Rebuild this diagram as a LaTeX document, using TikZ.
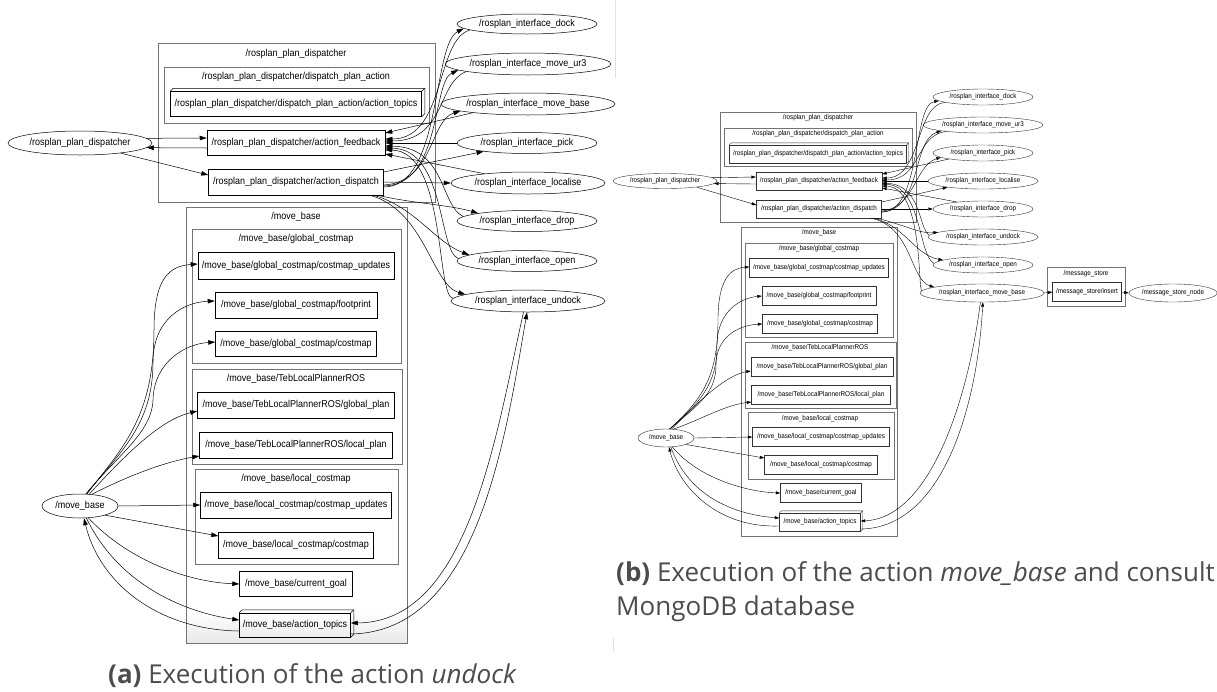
\documentclass[tikz,border=0pt]{standalone}
\usepackage{fontspec}
\setmainfont{Open Sans}
\newfontfamily\gv[FakeStretch=0.9]{Liberation Sans}
\usetikzlibrary{shapes.geometric,arrows.meta,calc}
\newcommand\threed[3]{%
  \draw[#2] (#1.north west) -- ++(#3,-#3) -- ($(#1.north east)+(#3,-#3)$) -- ($(#1.south east)+(#3,-#3)$) -- (#1.south east);
  \draw[#2] (#1.north east) -- ++(#3,-#3);}
\tikzset{
  afont/.style={font=\gv\fontsize{10}{12}\selectfont},
  bfont/.style={font=\gv\fontsize{7}{8}\selectfont},
  abox/.style={afont, draw=black, line width=0.5pt, rectangle, inner sep=0pt},
  bbox/.style={bfont, draw=black!80, line width=0.4pt, rectangle, inner sep=0pt},
  aell/.style={afont, draw=black, line width=0.5pt, ellipse, inner sep=0pt},
  bell/.style={bfont, draw=black!80, line width=0.4pt, ellipse, inner sep=0pt},
  aclu/.style={draw=black!55, line width=0.6pt},
  bclu/.style={draw=black!55, line width=0.45pt},
  atitle/.style={afont, inner sep=0pt},
  btitle/.style={bfont, inner sep=0pt},
  aarr/.style={-{Triangle[length=7pt,width=4.5pt]}, line width=0.5pt},
  barr/.style={-{Triangle[length=4.5pt,width=3pt]}, line width=0.4pt},
  captext/.style={anchor=base west, inner sep=0pt, text=black!70, font=\fontsize{26}{30}\selectfont}
}
\begin{document}
\begin{tikzpicture}[x=1pt,y=-1pt]
\useasboundingbox (0,0) rectangle (1217,691);
\fill[white] (0,0) rectangle (1217,691);
\draw[black!12, line width=0.8pt] (615,0) -- (615,78);
\draw[black!12, line width=0.8pt] (613,638) -- (613,652);

% ================= (a) =================
\draw[aclu] (158,43) rectangle (435,202);
\node[atitle] (taC1) at (296,54) {/rosplan\_plan\_dispatcher};
\draw[aclu] (164,67) rectangle (429,123);
\node[atitle] (taC2) at (296,77) {/rosplan\_plan\_dispatcher/dispatch\_plan\_action};
\shade[top color=white, bottom color=black!9] (186,612) rectangle (407,643);
\draw[aclu] (186,207) rectangle (407,643);
\node[atitle] (taC3) at (296,217) {/move\_base};
\draw[aclu] (192,229) rectangle (401,363);
\node[atitle] (taC4) at (296,239) {/move\_base/global\_costmap};
\draw[aclu] (192,369) rectangle (402,464);
\node[atitle] (taC5) at (296,379) {/move\_base/TebLocalPlannerROS};
\draw[aclu] (195,469) rectangle (398,564);
\node[atitle] (taC6) at (296,479) {/move\_base/local\_costmap};

\node[abox, minimum width=251pt, minimum height=25pt] (aT) at (296,104) {/rosplan\_plan\_dispatcher/dispatch\_plan\_action/action\_topics};
\threed{aT}{black, line width=0.5pt}{3}
\node[abox, minimum width=178pt, minimum height=25pt] (aFb) at (296,143) {/rosplan\_plan\_dispatcher/action\_feedback};
\node[abox, minimum width=175pt, minimum height=26pt] (aDs) at (296,182) {/rosplan\_plan\_dispatcher/action\_dispatch};
\node[abox, minimum width=196pt, minimum height=27pt] (aGU) at (296,266) {/move\_base/global\_costmap/costmap\_updates};
\node[abox, minimum width=162pt, minimum height=26pt] (aGF) at (296,305) {/move\_base/global\_costmap/footprint};
\node[abox, minimum width=161pt, minimum height=25pt] (aGC) at (296,344) {/move\_base/global\_costmap/costmap};
\node[abox, minimum width=197pt, minimum height=26pt] (aTG) at (296,405) {/move\_base/TebLocalPlannerROS/global\_plan};
\node[abox, minimum width=193pt, minimum height=26pt] (aTL) at (296,445) {/move\_base/TebLocalPlannerROS/local\_plan};
\node[abox, minimum width=191pt, minimum height=26pt] (aLU) at (296,505) {/move\_base/local\_costmap/costmap\_updates};
\node[abox, minimum width=155pt, minimum height=26pt] (aLC) at (296,545) {/move\_base/local\_costmap/costmap};
\node[abox, minimum width=113pt, minimum height=25pt] (aCG) at (296,584) {/move\_base/current\_goal};
\node[abox, minimum width=111pt, minimum height=24pt] (aAT) at (295,625) {/move\_base/action\_topics};
\threed{aAT}{black, line width=0.5pt}{3}

\node[aell, minimum width=144pt, minimum height=24pt] (aDisp) at (80,143) {/rosplan\_plan\_dispatcher};
\node[aell, minimum width=76pt, minimum height=24pt] (aMB) at (80,506) {/move\_base};
\node[aell, minimum width=140pt, minimum height=20pt] (aI1) at (527,24) {/rosplan\_interface\_dock};
\node[aell, minimum width=166pt, minimum height=22pt] (aI2) at (528,64) {/rosplan\_interface\_move\_ur3};
\node[aell, minimum width=174pt, minimum height=22pt] (aI3) at (528,104) {/rosplan\_interface\_move\_base};
\node[aell, minimum width=140pt, minimum height=21pt] (aI4) at (527,143) {/rosplan\_interface\_pick};
\node[aell, minimum width=154pt, minimum height=22pt] (aI5) at (528,183) {/rosplan\_interface\_localise};
\node[aell, minimum width=140pt, minimum height=21pt] (aI6) at (527,221) {/rosplan\_interface\_drop};
\node[aell, minimum width=140pt, minimum height=21pt] (aI7) at (527,261) {/rosplan\_interface\_open};
\node[aell, minimum width=154pt, minimum height=22pt] (aI8) at (528,301) {/rosplan\_interface\_undock};

% dispatcher <-> feedback / dispatch
\draw[aarr] (aDisp.4) -- ($(aFb.west)+(0,-5)$);
\draw[aarr] ($(aFb.west)+(0,5)$) -- (aDisp.-4);
\draw[aarr] (aDisp.-14) -- ($(aDs.west)+(0,-7)$);
% dispatch -> interfaces
\draw[aarr] ($(aDs.east)+(0,5)$) .. controls (442,187) and (432,45) .. (aI1.184);
\draw[aarr] ($(aDs.east)+(0,4)$) .. controls (442,185) and (432,82) .. (aI2.185);
\draw[aarr] ($(aDs.east)+(0,3)$) .. controls (434,182) and (430,120) .. (aI3.186);
\draw[aarr] ($(aDs.east)+(0,-10)$) -- (aI4.191);
\draw[aarr] (aDs.east) -- (aI5.west);
\draw[aarr] ($(aDs.south east)+(-6,0)$) .. controls (410,203) and (450,205) .. (aI6.171);
\draw[aarr] ($(aDs.south east)+(-10,0)$) .. controls (415,207) and (435,242) .. (aI7.174);
\draw[aarr] ($(aDs.south east)+(-14,0)$) .. controls (425,210) and (432,285) .. (aI8.174);
% interfaces -> feedback
\draw[aarr] (aI1.186) .. controls (435,40) and (446,139) .. ($(aFb.east)+(0,-4)$);
\draw[aarr] (aI2.187) .. controls (437,82) and (446,141) .. ($(aFb.east)+(0,-2)$);
\draw[aarr] (aI3.189) -- ($(aFb.east)+(0,-10)$);
\draw[aarr] (aI4.west) -- (aFb.east);
\draw[aarr] (aI5.168) -- ($(aFb.east)+(0,11)$);
\draw[aarr] (aI6.176) .. controls (440,205) and (446,147) .. ($(aFb.east)+(0,3)$);
\draw[aarr] (aI7.178) .. controls (438,252) and (446,149) .. ($(aFb.east)+(0,5)$);
\draw[aarr] (aI8.178) .. controls (436,296) and (446,151) .. ($(aFb.east)+(0,7)$);
% move_base edges
\draw[aarr] (aMB.60) .. controls (120,450) and (154,420) .. (154,330) .. controls (154,277) and (170,266) .. ($(aGU.west)+(0,-2)$);
\draw[aarr] (aMB.62) .. controls (120,452) and (153,425) .. (153,362) .. controls (153,318) and (185,302) .. ($(aGF.west)+(0,-4)$);
\draw[aarr] (aMB.64) .. controls (118,455) and (152,432) .. (153,400) .. controls (154,362) and (185,344) .. ($(aGC.west)+(0,-2)$);
\draw[aarr] (aMB.52) .. controls (125,455) and (160,420) .. ($(aTG.west)+(0,6)$);
\draw[aarr] (aMB.45) .. controls (130,475) and (165,462) .. ($(aTL.west)+(0,11)$);
\draw[aarr] (aMB.east) -- (aLU.west);
\draw[aarr] (aMB.-20) -- ($(aLC.west)+(0,-9)$);
\draw[aarr] (aMB.-55) .. controls (130,562) and (190,582) .. (aCG.west);
\draw[aarr] (aMB.-62) .. controls (120,588) and (190,613) .. ($(aAT.west)+(0,-5)$);
\draw[aarr] ($(aAT.west)+(0,6)$) .. controls (160,630) and (100,585) .. (aMB.-72);
% action_topics <-> undock
\draw[aarr] ($(aAT.east)+(0,9)$) .. controls (478,632) and (505,440) .. (aI8.-95);
\draw[aarr] (aI8.-112) .. controls (495,440) and (468,622) .. ($(aAT.east)+(0,-2)$);

% ================= (b) =================
\draw[bclu] (720,112) rectangle (916,222);
\node[btitle] (tbC1) at (818,118) {/rosplan\_plan\_dispatcher};
\draw[bclu] (724,128) rectangle (912,166);
\node[btitle] (tbC2) at (818,134) {/rosplan\_plan\_dispatcher/dispatch\_plan\_action};
\draw[bclu] (741,227) rectangle (897,536);
\node[btitle] (tbC3) at (819,233) {/move\_base};
\draw[bclu] (745,243) rectangle (893,337);
\node[btitle] (tbC4) at (819,249) {/move\_base/global\_costmap};
\draw[bclu] (745,342) rectangle (896,408);
\node[btitle] (tbC5) at (820,348) {/move\_base/TebLocalPlannerROS};
\draw[bclu] (748,412) rectangle (894,479);
\node[btitle] (tbC6) at (820,419) {/move\_base/local\_costmap};
\draw[bclu] (1047,267) rectangle (1125,306);
\node[btitle] (tbC7) at (1086,274) {/message\_store};

\node[bbox, minimum width=177pt, minimum height=18pt] (bT) at (818,154) {/rosplan\_plan\_dispatcher/dispatch\_plan\_action/action\_topics};
\threed{bT}{black!80, line width=0.4pt}{2}
\node[bbox, minimum width=126pt, minimum height=18pt] (bFb) at (819,181) {/rosplan\_plan\_dispatcher/action\_feedback};
\node[bbox, minimum width=125pt, minimum height=18pt] (bDs) at (819,209) {/rosplan\_plan\_dispatcher/action\_dispatch};
\node[bbox, minimum width=139pt, minimum height=19pt] (bGU) at (819,268) {/move\_base/global\_costmap/costmap\_updates};
\node[bbox, minimum width=114pt, minimum height=19pt] (bGF) at (819,296) {/move\_base/global\_costmap/footprint};
\node[bbox, minimum width=115pt, minimum height=19pt] (bGC) at (820,324) {/move\_base/global\_costmap/costmap};
\node[bbox, minimum width=142pt, minimum height=19pt] (bTG) at (822,367) {/move\_base/TebLocalPlannerROS/global\_plan};
\node[bbox, minimum width=139pt, minimum height=19pt] (bTL) at (821,395) {/move\_base/TebLocalPlannerROS/local\_plan};
\node[bbox, minimum width=137pt, minimum height=19pt] (bLU) at (821,437) {/move\_base/local\_costmap/costmap\_updates};
\node[bbox, minimum width=113pt, minimum height=19pt] (bLC) at (821,465) {/move\_base/local\_costmap/costmap};
\node[bbox, minimum width=81pt, minimum height=19pt] (bCG) at (821,493) {/move\_base/current\_goal};
\node[bbox, minimum width=81pt, minimum height=18pt] (bAT) at (820,522) {/move\_base/action\_topics};
\threed{bAT}{black!80, line width=0.4pt}{2}
\node[bbox, minimum width=69pt, minimum height=19pt] (bIns) at (1087,292) {/message\_store/insert};

\node[bell, minimum width=104pt, minimum height=15pt] (bDisp) at (665,181) {/rosplan\_plan\_dispatcher};
\node[bell, minimum width=56pt, minimum height=18pt] (bMB) at (666,438) {/move\_base};
\node[bell, minimum width=100pt, minimum height=16pt] (bI1) at (983,97) {/rosplan\_interface\_dock};
\node[bell, minimum width=120pt, minimum height=16pt] (bI2) at (983,125) {/rosplan\_interface\_move\_ur3};
\node[bell, minimum width=100pt, minimum height=16pt] (bI3) at (983,153) {/rosplan\_interface\_pick};
\node[bell, minimum width=110pt, minimum height=16pt] (bI4) at (983,181) {/rosplan\_interface\_localise};
\node[bell, minimum width=100pt, minimum height=16pt] (bI5) at (983,209) {/rosplan\_interface\_drop};
\node[bell, minimum width=110pt, minimum height=16pt] (bI6) at (983,237) {/rosplan\_interface\_undock};
\node[bell, minimum width=100pt, minimum height=16pt] (bI7) at (983,265) {/rosplan\_interface\_open};
\node[bell, minimum width=124pt, minimum height=18pt] (bI8) at (982,293) {/rosplan\_interface\_move\_base};
\node[bell, minimum width=86pt, minimum height=18pt] (bNode) at (1173,293) {/message\_store\_node};

\draw[barr] (bDisp.4) -- ($(bFb.west)+(0,-4)$);
\draw[barr] ($(bFb.west)+(0,3)$) -- (bDisp.-3);
\draw[barr] (bDisp.-11) -- ($(bDs.west)+(0,-4)$);
% dispatch -> interfaces
\draw[barr] ($(bDs.east)+(0,3)$) .. controls (922,212) and (912,105) .. (bI1.185);
\draw[barr] ($(bDs.east)+(0,3)$) .. controls (922,210) and (912,140) .. (bI2.188);
\draw[barr] ($(bDs.east)+(0,2)$) .. controls (915,208) and (915,165) .. (bI3.186);
\draw[barr] ($(bDs.east)+(0,-7)$) -- (bI4.190);
\draw[barr] (bDs.east) -- (bI5.west);
\draw[barr] ($(bDs.south east)+(-5,0)$) .. controls (905,225) and (920,234) .. (bI6.174);
\draw[barr] ($(bDs.south east)+(-8,0)$) .. controls (905,226) and (915,255) .. (bI7.173);
\draw[barr] ($(bDs.south east)+(-11,0)$) .. controls (912,226) and (910,280) .. (bI8.173);
% interfaces -> feedback
\draw[barr] (bI1.188) .. controls (915,105) and (922,178) .. ($(bFb.east)+(0,-3)$);
\draw[barr] (bI2.190) .. controls (915,135) and (922,180) .. ($(bFb.east)+(0,-1)$);
\draw[barr] (bI3.190) -- ($(bFb.east)+(0,-7)$);
\draw[barr] (bI4.west) -- (bFb.east);
\draw[barr] (bI5.165) -- ($(bFb.east)+(0,7)$);
\draw[barr] (bI6.178) .. controls (918,228) and (922,185) .. ($(bFb.east)+(0,2)$);
\draw[barr] (bI7.178) .. controls (918,255) and (922,186) .. ($(bFb.east)+(0,3)$);
\draw[barr] (bI8.178) .. controls (918,282) and (922,187) .. ($(bFb.east)+(0,5)$);
% move_base edges
\draw[barr] (bMB.65) .. controls (700,400) and (718,380) .. (718,320) .. controls (718,280) and (730,268) .. ($(bGU.west)+(0,-1)$);
\draw[barr] (bMB.67) .. controls (700,402) and (717,385) .. (717,345) .. controls (717,312) and (740,298) .. (bGF.west);
\draw[barr] (bMB.69) .. controls (700,404) and (716,392) .. (716,365) .. controls (716,336) and (740,325) .. (bGC.west);
\draw[barr] (bMB.58) .. controls (695,405) and (725,375) .. ($(bTG.west)+(0,4)$);
\draw[barr] (bMB.50) .. controls (700,420) and (725,405) .. ($(bTL.west)+(0,7)$);
\draw[barr] (bMB.east) -- (bLU.west);
\draw[barr] (bMB.-18) -- ($(bLC.west)+(0,-7)$);
\draw[barr] (bMB.-55) .. controls (700,480) and (750,492) .. (bCG.west);
\draw[barr] (bMB.-62) .. controls (690,500) and (740,515) .. ($(bAT.west)+(0,-4)$);
\draw[barr] ($(bAT.west)+(0,4)$) .. controls (720,528) and (680,490) .. (bMB.-72);
% action_topics <-> move_base interface
\draw[barr] ($(bAT.east)+(0,7)$) .. controls (945,528) and (978,400) .. (bI8.-85);
\draw[barr] (bI8.-100) .. controls (968,400) and (930,518) .. ($(bAT.east)+(0,-1)$);
% message store
\draw[barr] (bI8.east) -- (bIns.west);
\draw[barr] (bIns.east) -- (bNode.west);

% ================= captions =================
\node[captext] (capa) at (108,683) {\textbf{(a)} Execution of the action \textit{undock}};
\node[captext] (capb1) at (616,581) {\textbf{(b)} Execution of the action \textit{move\_base} and consult};
\node[captext] (capb2) at (616,615) {MongoDB database};
\end{tikzpicture}
\end{document}
